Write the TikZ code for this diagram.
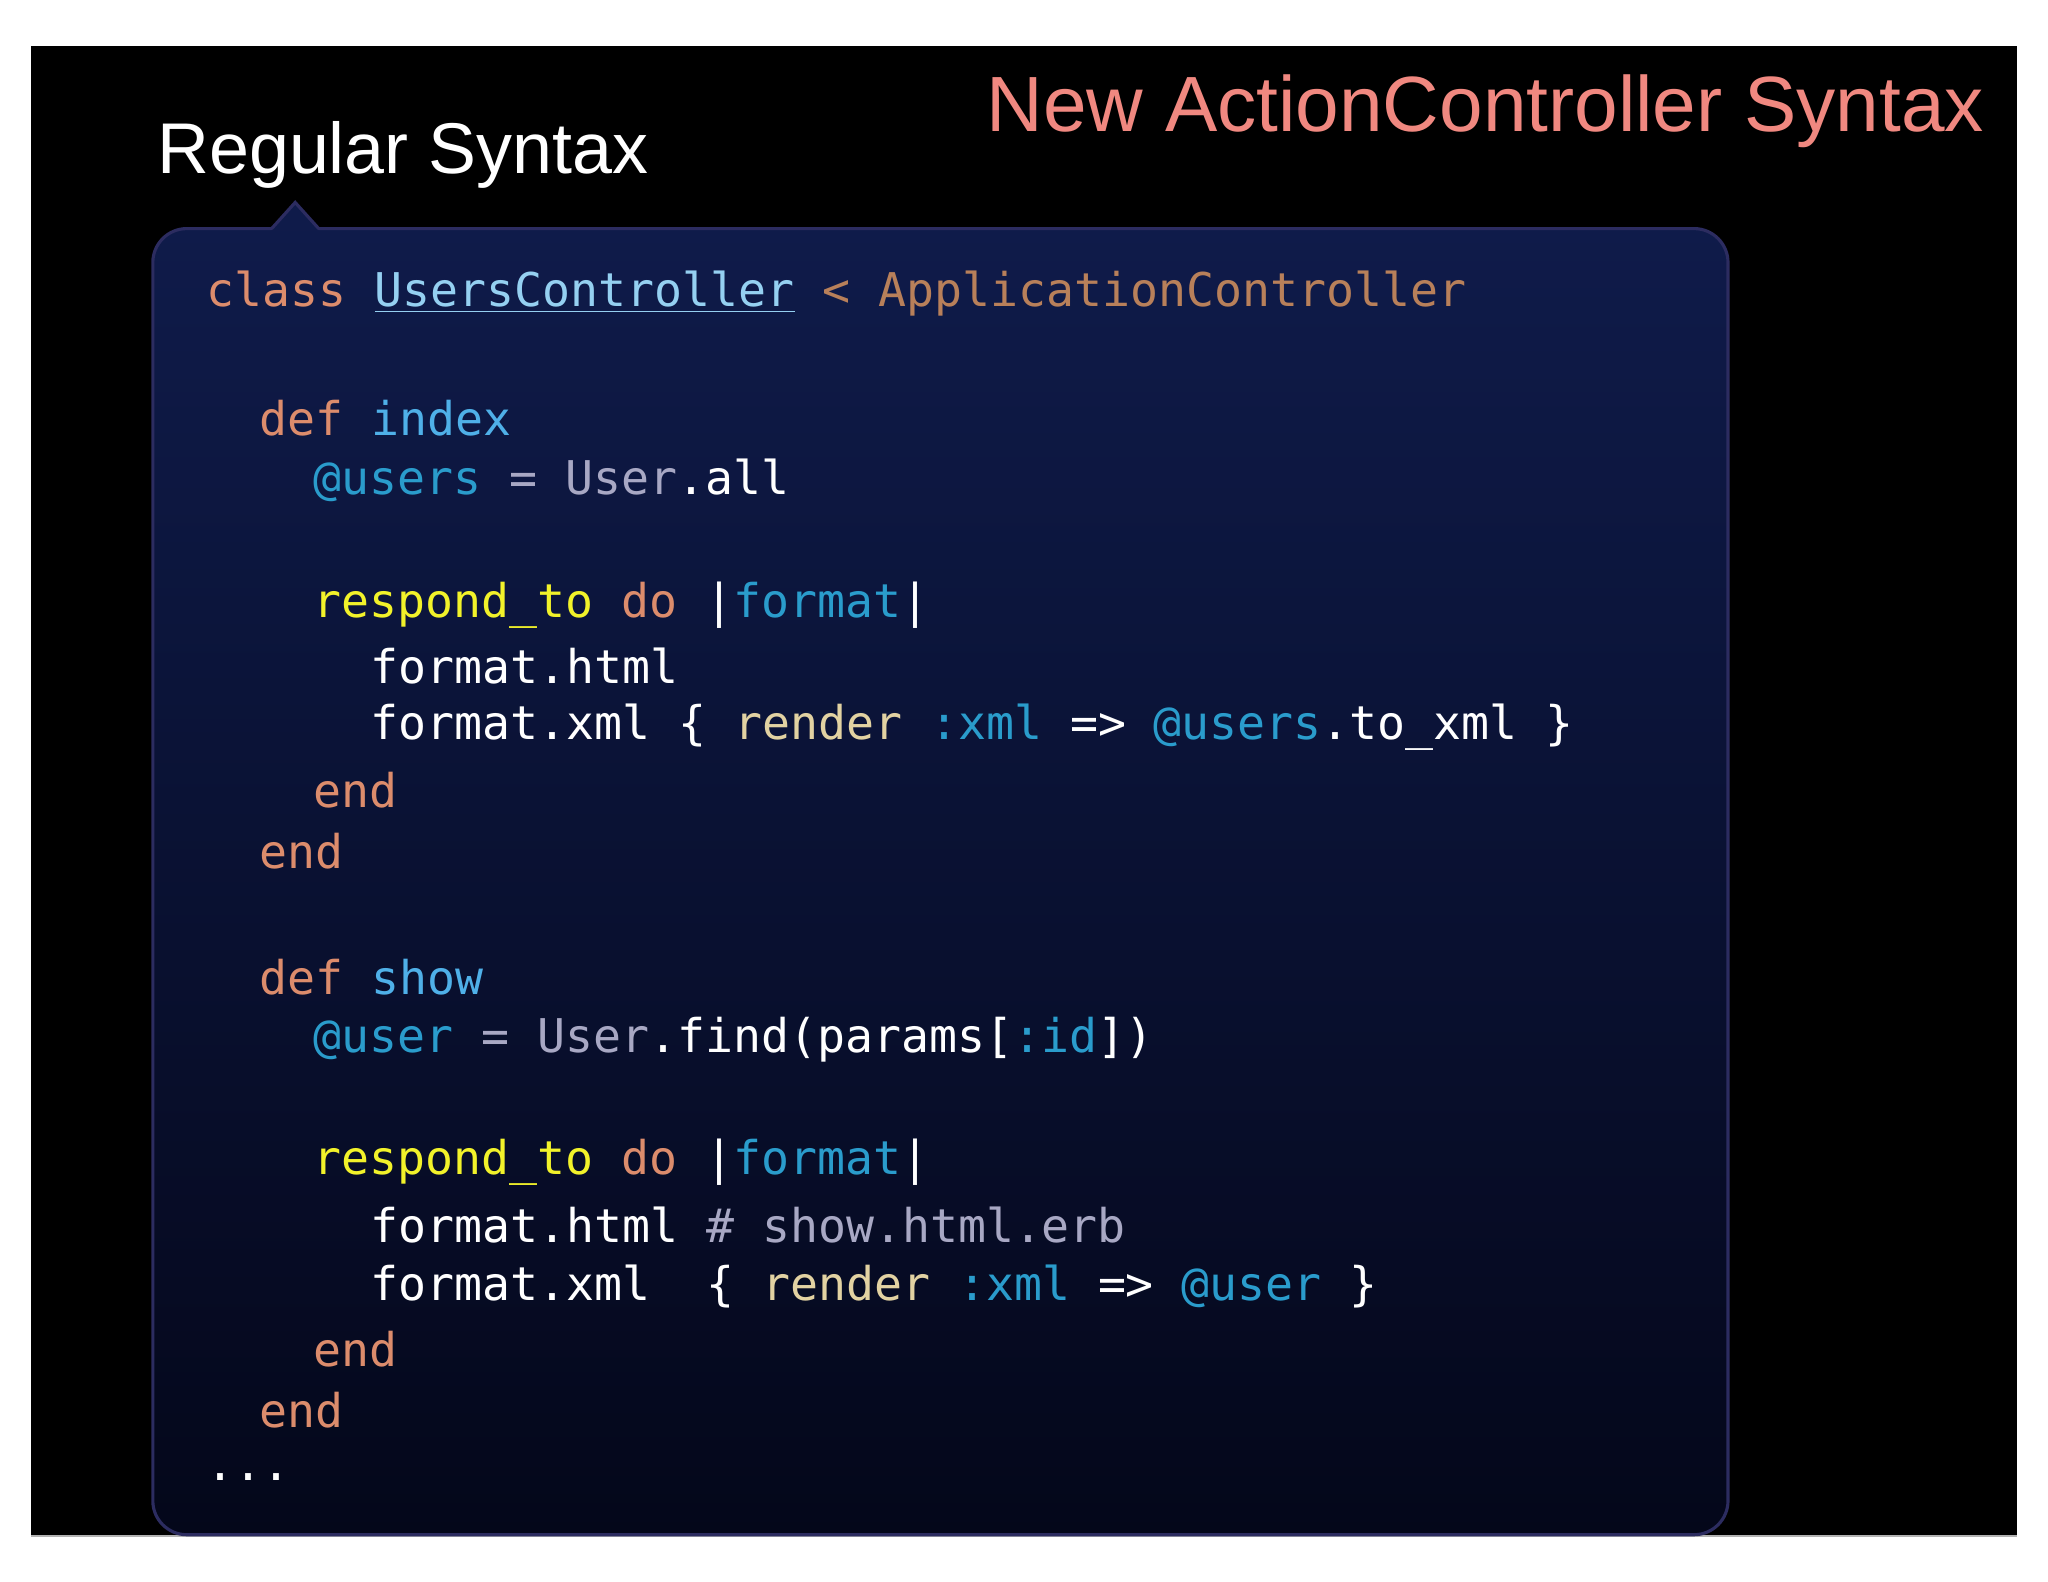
\documentclass[tikz,border=0pt]{standalone}
\usepackage{fontspec}
\setmainfont{Liberation Sans}
\setmonofont{DejaVu Sans Mono}
\definecolor{ckwc}{HTML}{DC8C6C}
\definecolor{cidc}{HTML}{4FB0E8}
\definecolor{cylc}{HTML}{F2F22A}
\definecolor{ctanc}{HTML}{E2D2A2}
\definecolor{cgrc}{HTML}{A8A8C4}
\definecolor{cbrc}{HTML}{B8805A}
\definecolor{csymc}{HTML}{2A9CCC}
\definecolor{boxtop}{HTML}{0F1B4A}
\definecolor{boxbot}{HTML}{04071A}
\definecolor{boxedge}{HTML}{2C2C60}
\definecolor{salmon}{HTML}{F08880}
\newcommand{\ckw}[1]{\textcolor{ckwc}{#1}}
\newcommand{\cid}[1]{\textcolor{cidc}{#1}}
\newcommand{\cyl}[1]{\textcolor{cylc}{#1}}
\newcommand{\ctan}[1]{\textcolor{ctanc}{#1}}
\newcommand{\cgr}[1]{\textcolor{cgrc}{#1}}
\newcommand{\cbr}[1]{\textcolor{cbrc}{#1}}
\newcommand{\csym}[1]{\textcolor{csymc}{#1}}
\begin{document}
\begin{tikzpicture}[x=0.5pt,y=-0.5pt,
  codeline/.style={anchor=west,inner sep=0pt,text=white,font=\ttfamily\fontsize{17.8}{20}\selectfont},
  title/.style={anchor=base west,inner sep=0pt}]
\fill[white] (0,0) rectangle (1568,1211);
\useasboundingbox (0,0) rectangle (1568,1211);
\fill[black] (24,35) rectangle (1544,1176);
\draw[gray!60,line width=0.6pt] (24,1176) -- (1544,1176);
\shade[top color=boxtop,bottom color=boxbot,rounded corners=13pt] (117,175) rectangle (1323,1175);
\draw[boxedge,line width=1.2pt,rounded corners=13pt] (117,175) rectangle (1323,1175);
\fill[boxtop] (208,176.5) -- (226,155) -- (244,176.5) -- cycle;
\draw[boxedge,line width=1.2pt] (208,175) -- (226,155) -- (244,175);
\node[title,text=white,font=\fontsize{27.5}{30}\selectfont] (t1) at (120,133) {Regular Syntax};
\node[title,text=salmon,font=\fontsize{30}{34}\selectfont] (t2) at (755,101) {New ActionController Syntax};
\node[codeline] (l0) at (158,225) {\ckw{class} \textcolor{cidc!60!white}{\underline{UsersController}} \cbr{< ApplicationController}};
\node[codeline] (l2) at (198,320) {\ckw{def} \cid{index}};
\node[codeline] (l3) at (240,368) {\csym{@users} \cgr{=} \cgr{User}.all};
\node[codeline] (l5) at (240,463) {\cyl{respond\_to} \ckw{do} |\csym{format}|};
\node[codeline] (l6) at (283,510) {format.html};
\node[codeline] (l7) at (283,557) {format.xml \{ \ctan{render} \csym{:xml} => \csym{@users}.to\_xml \}};
\node[codeline] (l8) at (240,605) {\ckw{end}};
\node[codeline] (l9) at (198,652) {\ckw{end}};
\node[codeline] (l11) at (198,748) {\ckw{def} \cid{show}};
\node[codeline] (l12) at (240,796) {\csym{@user} \cgr{=} \cgr{User}.find(params[\csym{:id}])};
\node[codeline] (l14) at (240,890) {\cyl{respond\_to} \ckw{do} |\csym{format}|};
\node[codeline] (l15) at (283,938) {format.html \cgr{\# show.html.erb}};
\node[codeline] (l16) at (283,985) {format.xml\ \ \{ \ctan{render} \csym{:xml} => \csym{@user} \}};
\node[codeline] (l17) at (240,1033) {\ckw{end}};
\node[codeline] (l18) at (198,1080) {\ckw{end}};
\node[codeline] (l19) at (158,1131) {...};
\end{tikzpicture}
\end{document}
